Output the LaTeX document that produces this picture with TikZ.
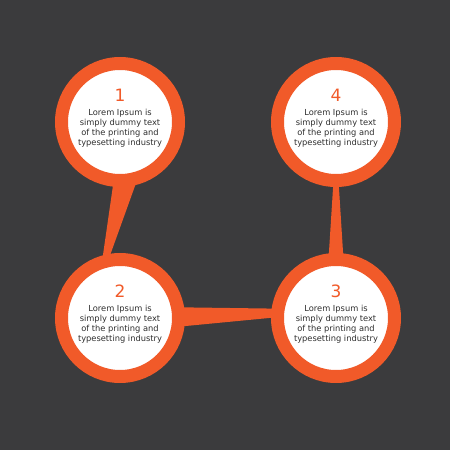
\documentclass[tikz,border=0pt]{standalone}
\usepackage{fontspec}
\setmainfont{DejaVu Sans}
\usetikzlibrary{calc}
\definecolor{bggray}{HTML}{3B3B3D}
\definecolor{steporange}{HTML}{F15A29}
\definecolor{textgray}{HTML}{2E2E2E}
\tikzstyle{ring} = [circle, draw=steporange, fill=white, line width=13pt, minimum size=117pt, inner sep=0pt, outer sep=0pt]
\tikzstyle{number} = [text=steporange, font=\fontsize{17}{17}\selectfont, inner sep=0pt]
\tikzstyle{caption} = [text=textgray, font=\fontsize{8.3}{10}\selectfont, align=center, inner sep=0pt]
\tikzstyle{link} = [fill=steporange]
\newcommand*{\taper}[4]{%
    \fill [link] ($(#1)!#3!90:(#2)$) -- ($(#1)!#3!-90:(#2)$)
        -- ($(#2)!#4!90:(#1)$) -- ($(#2)!#4!-90:(#1)$) -- cycle;}

\begin{document}
\begin{tikzpicture}[x=1pt, y=1pt]
    \fill [bggray] (0,0) rectangle (450,450);

    % Circles.
    \foreach\i/\cx/\cy in {1/120/328, 2/120/132, 3/336/132, 4/336/328} {
        \node (step\i) [ring] at (\cx,\cy) {};
        \node (num\i) [number] at ([yshift=26.5pt]step\i.center) {\i};
        \node (text\i) [caption] at ([yshift=-6pt]step\i.center)
            {Lorem Ipsum is\\simply dummy text\\of the printing and\\typesetting industry};
    }

    % Links.
    \taper{step1.-85.5}{step2.105.8}{11.3pt}{2.8pt}
    \taper{step2.1.4}{step3.175.4}{9.7pt}{4.25pt}
    \taper{step4.-90}{step3.90}{2.5pt}{7.5pt}
\end{tikzpicture}
\end{document}
